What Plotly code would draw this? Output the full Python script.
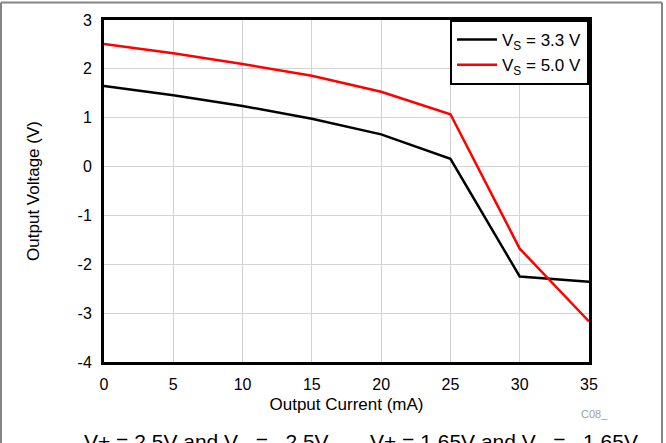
import plotly.graph_objects as go

current_ma = [0, 5, 10, 15, 20, 25, 30, 35]
vout_33 = [1.65, 1.46, 1.24, 0.98, 0.66, 0.16, -2.25, -2.36]
vout_50 = [2.51, 2.32, 2.10, 1.86, 1.53, 1.07, -1.68, -3.17]
x_ticks = [0, 5, 10, 15, 20, 25, 30, 35]
y_ticks = [-4, -3, -2, -1, 0, 1, 2, 3]

FONT = "Liberation Sans"

fig = go.Figure()
fig.add_trace(go.Scatter(x=current_ma, y=vout_33, mode="lines",
                         line=dict(color="black", width=2.5),
                         name="V<sub>S</sub> = 3.3 V"))
fig.add_trace(go.Scatter(x=current_ma, y=vout_50, mode="lines",
                         line=dict(color="#ff0000", width=2.5),
                         name="V<sub>S</sub> = 5.0 V"))

W, H = 666, 443
L, R, T, B = 104, 77, 20, 81
pw, ph = W - L - R, H - T - B

def px(x):
    return (x - L) / pw

def py(y):
    return (H - B - y) / ph

fig.update_layout(
    width=W, height=H,
    margin=dict(l=L, r=R, t=T, b=B),
    paper_bgcolor="white", plot_bgcolor="white",
    font=dict(family=FONT, size=16, color="black"),
    showlegend=True,
    legend=dict(x=1, y=1, xanchor="right", yanchor="top",
                bgcolor="white", bordercolor="black", borderwidth=2,
                font=dict(size=17, family=FONT),
                tracegroupgap=0, itemwidth=40),
    xaxis=dict(range=[0, 35], tickvals=x_ticks, ticktext=[str(v) for v in x_ticks],
               showgrid=True, gridcolor="#d3d3d3", gridwidth=1,
               showline=True, linecolor="black", linewidth=3, mirror=True,
               ticks="", zeroline=False, ticklabelstandoff=6,
               tickfont=dict(size=16, family=FONT),
               title=dict(text="Output Current (mA)", standoff=6,
                          font=dict(size=17, family=FONT))),
    yaxis=dict(range=[-4, 3], tickvals=y_ticks, ticktext=[str(v) for v in y_ticks],
               showgrid=True, gridcolor="#d3d3d3", gridwidth=1,
               showline=True, linecolor="black", linewidth=3, mirror=True,
               ticks="", zeroline=False, ticklabelstandoff=6,
               tickfont=dict(size=16, family=FONT),
               title=dict(text="Output Voltage (V)", standoff=34,
                          font=dict(size=17, family=FONT))),
)

# outer gray frame (top, left, right)
frame = dict(type="line", xref="paper", yref="paper",
             line=dict(color="#858585", width=2), layer="above")
fig.add_shape(**frame, x0=px(1), x1=px(662), y0=py(2.5), y1=py(2.5))
fig.add_shape(**frame, x0=px(1), x1=px(1), y0=py(2.5), y1=py(460))
fig.add_shape(**frame, x0=px(662), x1=px(662), y0=py(2.5), y1=py(460))

fig.add_annotation(text="C08_", xref="paper", yref="paper",
                   x=px(594), y=py(414), xanchor="center", yanchor="middle",
                   showarrow=False, font=dict(size=11, color="#a0a0a0", family=FONT))
fig.add_annotation(text="V+ = 2.5V and V– = –2.5V", xref="paper", yref="paper",
                   x=px(82), y=py(441.5), xanchor="left", yanchor="middle",
                   showarrow=False, font=dict(size=21, color="black", family=FONT))
fig.add_annotation(text="V+ = 1.65V and V– = –1.65V", xref="paper", yref="paper",
                   x=px(368), y=py(441.5), xanchor="left", yanchor="middle",
                   showarrow=False, font=dict(size=21, color="black", family=FONT))

fig.write_html("out.html")
